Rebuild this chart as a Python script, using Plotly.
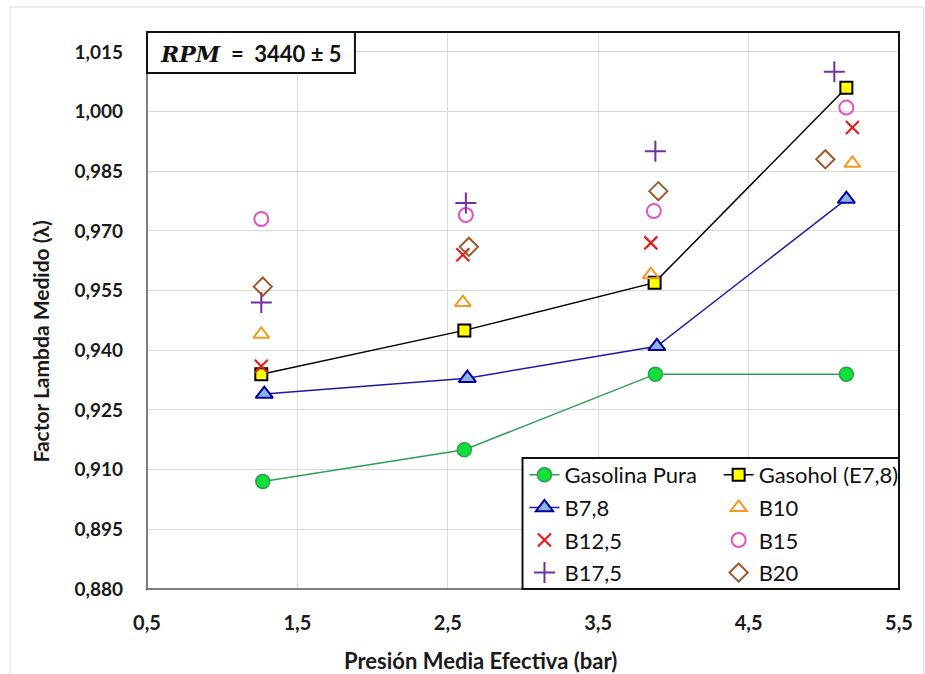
import plotly.graph_objects as go

# ---- data ----
x_gasolina = [1.27, 2.61, 3.88, 5.15]
y_gasolina = [0.907, 0.915, 0.934, 0.934]

x_gasohol = [1.26, 2.61, 3.875, 5.15]
y_gasohol = [0.934, 0.945, 0.957, 1.006]

x_b78 = [1.28, 2.63, 3.89, 5.15]
y_b78 = [0.929, 0.933, 0.941, 0.978]

x_b10 = [1.26, 2.60, 3.85, 5.19]
y_b10 = [0.944, 0.952, 0.959, 0.987]

x_b125 = [1.26, 2.60, 3.85, 5.19]
y_b125 = [0.936, 0.964, 0.967, 0.996]

x_b15 = [1.26, 2.62, 3.87, 5.15]
y_b15 = [0.973, 0.974, 0.975, 1.001]

x_b175 = [1.26, 2.62, 3.88, 5.07]
y_b175 = [0.952, 0.977, 0.990, 1.010]

x_b20 = [1.27, 2.64, 3.90, 5.01]
y_b20 = [0.956, 0.966, 0.980, 0.988]

x_ticks = [0.5, 1.5, 2.5, 3.5, 4.5, 5.5]
y_ticks = [0.880, 0.895, 0.910, 0.925, 0.940, 0.955, 0.970, 0.985, 1.000, 1.015]

FONT = "Lato"

fig = go.Figure()

def add(x, y, name, mode, line, marker, legend):
    fig.add_trace(go.Scatter(x=x, y=y, name=name, mode=mode, line=line,
                             marker=marker, legend=legend, legendgroup=name))

add(x_gasolina, y_gasolina, "Gasolina Pura", "lines+markers",
    dict(color="#2e9e55", width=1.5),
    dict(symbol="circle", size=14, color="#11e03a",
         line=dict(color="#2e9e4e", width=1.5)), "legend")
add(x_gasohol, y_gasohol, "Gasohol (E7,8)", "lines+markers",
    dict(color="#000000", width=1.5),
    dict(symbol="square", size=12, color="#ffff00",
         line=dict(color="#000000", width=2)), "legend2")
add(x_b78, y_b78, "B7,8", "lines+markers",
    dict(color="#1c1ca6", width=1.5),
    dict(symbol="triangle-up", size=15, color="#8eb4e3",
         line=dict(color="#0000a0", width=2)), "legend")
add(x_b10, y_b10, "B10", "markers", None,
    dict(symbol="triangle-up-open", size=14, color="#f29a22",
         line=dict(color="#f29a22", width=2)), "legend2")
add(x_b125, y_b125, "B12,5", "markers", None,
    dict(symbol="x-thin-open", size=13, color="#e41e1e",
         line=dict(color="#e41e1e", width=2.2)), "legend")
add(x_b15, y_b15, "B15", "markers", None,
    dict(symbol="circle-open", size=14, color="#e052c6",
         line=dict(color="#e052c6", width=2)), "legend2")
add(x_b175, y_b175, "B17,5", "markers", None,
    dict(symbol="cross-thin-open", size=15, color="#7030a0",
         line=dict(color="#7030a0", width=2)), "legend")
add(x_b20, y_b20, "B20", "markers", None,
    dict(symbol="diamond-open", size=14, color="#9c5a2a",
         line=dict(color="#9c5a2a", width=2)), "legend2")

L, R, T, B = 147, 15, 32, 85
W, H = 925, 674
pw, ph = W - L - R, H - T - B

def px_x(p):
    return (p - L) / pw

def px_y(p):
    return (H - B - p) / ph

leg_common = dict(
    yanchor="top", xanchor="left", orientation="v",
    bgcolor="rgba(0,0,0,0)", borderwidth=0,
    font=dict(family=FONT, size=22, color="#111111"),
    tracegroupgap=1, itemwidth=30,
)

fig.update_layout(
    width=W, height=H,
    margin=dict(l=L, r=R, t=T, b=B),
    paper_bgcolor="white", plot_bgcolor="white",
    separators=",.",
    font=dict(family=FONT, color="#1a1a1a"),
    showlegend=True,
    legend=dict(x=px_x(530), y=px_y(454), **leg_common),
    legend2=dict(x=px_x(727), y=px_y(454), **leg_common),
    xaxis=dict(
        range=[0.5, 5.5], tickmode="array", tickvals=x_ticks,
        tickformat=".1f", showgrid=True, gridcolor="#d9d9d9", gridwidth=1,
        zeroline=False, showline=False, ticks="",
        tickfont=dict(family=FONT, size=20, color="#1a1a1a", weight="bold"),
        ticklabelstandoff=20,
    ),
    yaxis=dict(
        range=[0.88, 1.02], tickmode="array", tickvals=y_ticks,
        tickformat=".3f", showgrid=True, gridcolor="#d9d9d9", gridwidth=1,
        zeroline=False, showline=False, ticks="",
        tickfont=dict(family=FONT, size=19, color="#1a1a1a", weight="bold"),
        ticklabelstandoff=23,
    ),
)

shapes = []
# outer light chart border
shapes.append(dict(type="rect", xref="paper", yref="paper",
                   x0=px_x(8), x1=px_x(935), y0=px_y(684), y1=px_y(7),
                   line=dict(color="#d9d9d9", width=1), layer="below"))
# plot area border
shapes.append(dict(type="rect", xref="paper", yref="paper",
                   x0=0, x1=1, y0=0, y1=1,
                   line=dict(color="#111111", width=2)))
# left and bottom axis lines (grey)
shapes.append(dict(type="line", xref="paper", yref="paper",
                   x0=0, x1=0, y0=0, y1=px_y(73),
                   line=dict(color="#7f7f7f", width=2)))
shapes.append(dict(type="line", xref="paper", yref="paper",
                   x0=0, x1=px_x(528), y0=0, y1=0,
                   line=dict(color="#7f7f7f", width=2)))
# RPM box
shapes.append(dict(type="rect", xref="paper", yref="paper",
                   x0=0, x1=px_x(358), y0=px_y(73), y1=1,
                   fillcolor="white",
                   line=dict(color="#111111", width=2)))
# legend box
shapes.append(dict(type="rect", xref="paper", yref="paper",
                   x0=px_x(528), x1=1, y0=0, y1=px_y(458),
                   fillcolor="white",
                   line=dict(color="#111111", width=2)))
fig.update_layout(shapes=shapes)

fig.add_annotation(
    xref="paper", yref="paper", x=px_x(253), y=px_y(53),
    xanchor="center", yanchor="middle", showarrow=False,
    text="<span style='font-family:DejaVu Serif'><b><i>RPM</i></b></span>"
         "<b>  =  3440 ± 5</b>",
    font=dict(family=FONT, size=22, color="#111111"),
)
fig.add_annotation(
    xref="paper", yref="paper", x=px_x(485), y=px_y(660),
    xanchor="center", yanchor="middle", showarrow=False,
    text="<b>Presión Media Efectiva (bar)</b>",
    font=dict(family=FONT, size=22, color="#1a1a1a"),
)
fig.add_annotation(
    xref="paper", yref="paper", x=px_x(38), y=px_y(342),
    xanchor="center", yanchor="middle", showarrow=False, textangle=-90,
    text="<b>Factor Lambda Medido (λ)</b>",
    font=dict(family=FONT, size=21, color="#1a1a1a"),
)

fig.write_html("out.html")
